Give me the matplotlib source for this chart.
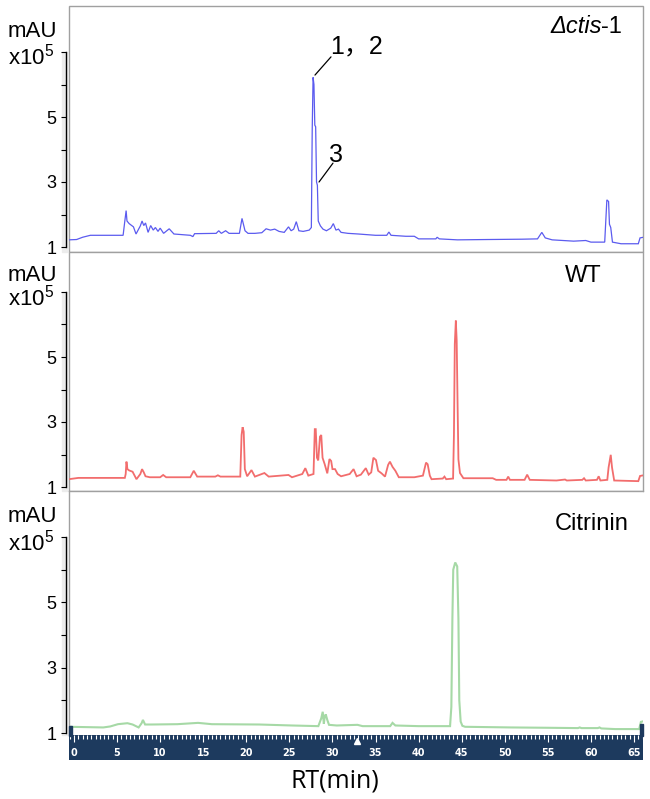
import matplotlib
matplotlib.use('Agg')
import matplotlib.pyplot as plt
from matplotlib.patches import Rectangle
from matplotlib.ticker import FixedLocator, MultipleLocator

plt.rcParams['font.family'] = ['Liberation Sans', 'Noto Sans CJK SC', 'DejaVu Sans']
plt.rcParams['mathtext.fontset'] = 'custom'
plt.rcParams['mathtext.rm'] = 'Liberation Sans'
plt.rcParams['mathtext.it'] = 'Liberation Sans:italic'
plt.rcParams['mathtext.default'] = 'regular'

# chromatogram traces: retention time (min) and signal (x10^5 mAU)
ctis_rt = [-0.6, 0.3, 1.0, 1.9, 5.7, 5.9, 6.05, 6.15, 6.4, 6.9, 7.2, 7.7, 7.9, 8.1, 8.3, 8.6,
           8.9, 9.2, 9.45, 9.75, 10.0, 10.4, 11.05, 11.6, 13.5, 13.8, 14.0, 16.5, 16.8, 17.1,
           17.6, 18.0, 19.2, 19.5, 19.85, 20.2, 21.0, 21.8, 22.3, 22.8, 23.3, 23.8, 24.4, 24.9,
           25.2, 25.5, 25.8, 26.1, 26.6, 27.3, 27.55, 27.65, 27.75, 27.85, 27.95, 28.05, 28.15,
           28.25, 28.35, 28.6, 28.9, 29.3, 29.8, 30.1, 30.4, 30.7, 31.0, 31.8, 33.0, 35.0, 36.3,
           36.55, 36.8, 38.5, 39.5, 40.0, 42.0, 42.15, 42.4, 44.5, 48.0, 52.0, 53.8, 54.3, 54.7,
           55.5, 58.0, 59.4, 60.0, 61.6, 61.85, 62.05, 62.15, 62.3, 62.5, 63.5, 65.5, 65.7, 66.1]
ctis_au = [1.22, 1.23, 1.30, 1.36, 1.36, 1.80, 2.12, 1.80, 1.72, 1.62, 1.40, 1.65, 1.80, 1.66,
           1.74, 1.45, 1.66, 1.52, 1.60, 1.48, 1.58, 1.42, 1.56, 1.40, 1.36, 1.32, 1.41, 1.42,
           1.50, 1.42, 1.50, 1.42, 1.42, 1.88, 1.50, 1.42, 1.42, 1.44, 1.56, 1.52, 1.55, 1.48,
           1.45, 1.62, 1.50, 1.55, 1.78, 1.50, 1.48, 1.52, 1.60, 4.60, 6.22, 6.00, 4.75, 4.70,
           3.00, 2.90, 1.80, 1.65, 1.55, 1.50, 1.58, 1.72, 1.52, 1.55, 1.45, 1.42, 1.40, 1.36,
           1.36, 1.46, 1.36, 1.33, 1.33, 1.25, 1.25, 1.30, 1.25, 1.22, 1.23, 1.24, 1.25, 1.45,
           1.28, 1.22, 1.18, 1.20, 1.15, 1.15, 2.45, 2.40, 1.70, 1.60, 1.15, 1.10, 1.10, 1.28, 1.30]

wt_rt = [-0.6, 0.5, 5.9, 6.0, 6.09, 6.2, 6.4, 6.8, 7.25, 7.7, 7.9, 8.1, 8.3, 8.8, 10.0, 10.35,
         10.7, 13.5, 13.9, 14.3, 16.4, 16.7, 17.0, 19.3, 19.45, 19.57, 19.7, 19.83, 20.1, 20.6,
         21.0, 22.1, 22.6, 24.9, 25.3, 26.5, 26.85, 27.2, 27.8, 27.95, 28.06, 28.2, 28.35, 28.55,
         28.7, 28.85, 29.1, 29.4, 29.65, 29.85, 30.0, 30.3, 30.6, 31.0, 32.0, 32.45, 32.8, 33.3,
         33.87, 34.2, 34.5, 34.75, 35.05, 35.3, 35.7, 36.1, 36.46, 36.67, 36.97, 37.3, 37.7,
         39.5, 40.5, 40.86, 41.05, 41.3, 41.5, 42.8, 43.0, 43.2, 44.0, 44.1, 44.2, 44.32, 44.42,
         44.52, 44.62, 44.8, 45.2, 48.6, 49.0, 50.2, 50.4, 50.6, 52.3, 52.6, 52.9, 56.0, 57.0,
         57.2, 59.0, 59.2, 59.4, 60.7, 60.9, 61.1, 61.9, 62.05, 62.3, 62.45, 62.7, 65.5, 65.7, 66.1]
wt_au = [1.24, 1.28, 1.28, 1.40, 1.78, 1.55, 1.51, 1.47, 1.24, 1.40, 1.55, 1.45, 1.33, 1.30,
         1.30, 1.37, 1.30, 1.30, 1.50, 1.32, 1.32, 1.36, 1.32, 1.32, 2.60, 2.84, 2.70, 1.55,
         1.33, 1.52, 1.32, 1.43, 1.32, 1.37, 1.30, 1.40, 1.58, 1.35, 1.40, 2.78, 2.78, 1.90,
         1.82, 2.55, 2.60, 1.90, 1.70, 1.42, 1.86, 1.80, 1.55, 1.55, 1.40, 1.33, 1.40, 1.55,
         1.33, 1.38, 1.58, 1.38, 1.45, 1.90, 1.83, 1.50, 1.42, 1.32, 1.68, 1.78, 1.62, 1.50,
         1.30, 1.30, 1.35, 1.75, 1.70, 1.35, 1.24, 1.26, 1.32, 1.24, 1.26, 2.60, 5.40, 6.12,
         5.50, 3.60, 1.85, 1.43, 1.27, 1.27, 1.22, 1.22, 1.32, 1.22, 1.22, 1.38, 1.22, 1.20,
         1.23, 1.20, 1.22, 1.27, 1.20, 1.22, 1.33, 1.20, 1.22, 1.60, 1.99, 1.60, 1.20, 1.18,
         1.34, 1.36]

cit_rt = [-0.6, 3.4, 4.2, 5.1, 6.2, 6.8, 7.5, 7.85, 8.0, 8.25, 9.0, 12.0, 14.4, 16.0, 21.5,
          25.3, 28.36, 28.7, 28.87, 29.0, 29.1, 29.22, 29.4, 29.6, 30.5, 32.9, 33.5, 36.7,
          36.97, 37.3, 40.0, 43.65, 43.8, 43.92, 44.02, 44.25, 44.48, 44.62, 44.72, 44.88, 45.08,
          45.4, 50.75, 55.0, 58.5, 58.7, 58.9, 60.8, 61.0, 61.2, 62.8, 65.6, 65.8, 66.1]
cit_au = [1.19, 1.17, 1.20, 1.27, 1.30, 1.26, 1.17, 1.30, 1.40, 1.26, 1.26, 1.27, 1.31, 1.27,
          1.26, 1.23, 1.21, 1.45, 1.65, 1.28, 1.50, 1.57, 1.40, 1.25, 1.23, 1.25, 1.21, 1.21,
          1.31, 1.23, 1.21, 1.21, 1.80, 4.50, 6.00, 6.22, 6.10, 4.50, 2.00, 1.35, 1.22, 1.19,
          1.17, 1.16, 1.15, 1.17, 1.15, 1.15, 1.17, 1.14, 1.12, 1.12, 1.34, 1.36]

sample_names = [('Δctis', '-1'), ('WT', ''), ('Citrinin', '')]
y_ticks = [1, 2, 3, 4, 5, 6, 7]
y_tick_labels = ['1', '', '3', '', '5', '', '']
rt_ticks = list(range(0, 66, 5))
marker_rt = 32.8

W, H = 650, 799
fig = plt.figure(figsize=(W / 100, H / 100), dpi=100)


def box(x0, y0, x1, y1):
    # pixel box (top-left origin) -> figure fraction rect
    return [x0 / W, 1 - y1 / H, (x1 - x0) / W, (y1 - y0) / H]


# x calibration: 0 min at px 74, 65 min at px 634
ppm = (634 - 74) / 65
xlim = ((69 - 74) / ppm, 65 + (643 - 634) / ppm)

# panel geometry in pixels: top, bottom, y-pixel of tick 1, y-pixel of tick 7
panels = [(6, 252, 247, 52), (252, 491, 487, 292), (491, 735, 733, 537)]
traces = [(ctis_rt, ctis_au, '#5b5bef', 0.9),
          (wt_rt, wt_au, '#f26d6d', 1.3),
          (cit_rt, cit_au, '#a6d9a6', 1.5)]
label_pos = [(550, 33), (565, 282), (555, 530)]
mau_base = [37, 281, 522]

axes = []
for i, (top, bot, p1, p7) in enumerate(panels):
    ax = fig.add_axes(box(69, top, 643, bot))
    ppu = (p1 - p7) / 6
    ax.set_ylim(1 - (bot - p1) / ppu, 7 + (p7 - top) / ppu)
    ax.set_xlim(*xlim)
    rt, au, col, lw = traces[i]
    ax.plot(rt, au, color=col, lw=lw, solid_joinstyle='miter')

    for s in ['top', 'right', 'bottom']:
        ax.spines[s].set_visible(False)
    ax.spines['left'].set_position(('outward', 2))
    ax.spines['left'].set_bounds(1, 7)
    ax.spines['left'].set_linewidth(1.0)
    if i < 2:
        ax.add_patch(Rectangle((0, 0), 1, 1, transform=ax.transAxes, fill=False,
                               edgecolor='#a0a0a0', lw=1.0, clip_on=False, zorder=0))
    else:
        ax.plot([0, 1], [1, 1], transform=ax.transAxes, color='#a0a0a0', lw=1.0, clip_on=False)
        ax.plot([0, 0], [0, 1], transform=ax.transAxes, color='#a0a0a0', lw=1.0, clip_on=False)
    ax.yaxis.set_major_locator(FixedLocator(y_ticks))
    ax.set_yticklabels(y_tick_labels)
    ax.tick_params(axis='y', direction='out', length=3.6, width=0.8, pad=3.5, labelsize=13)
    ax.set_xticks([])

    # light grey band left of the axis line
    fig.patches.append(Rectangle((62 / W, 1 - bot / H), 5 / W, (bot - p7) / H,
                                 transform=fig.transFigure, color='#ececec', zorder=-1))

    fig.text(8 / W, 1 - mau_base[i] / H, 'mAU', fontsize=16, va='baseline')
    fig.text(8 / W, 1 - (p7 + 13) / H, 'x10$^5$', fontsize=16, va='baseline')
    lx, ly = label_pos[i]
    name, suffix = sample_names[i]
    t1 = fig.text(lx / W, 1 - ly / H, name, fontsize=17, va='baseline',
                  style='italic' if suffix else 'normal')
    if suffix:
        ax.annotate(suffix, xy=(1, 0), xycoords=t1, fontsize=17, va='bottom', ha='left')
    axes.append(ax)

# peak labels in the top panel
ax = axes[0]
ax.annotate('', xy=(27.97, 6.29), xytext=(29.83, 6.85),
            arrowprops=dict(arrowstyle='-', lw=0.9, color='k', shrinkA=0, shrinkB=0))
ax.text(29.72, 6.97, '1，2', fontsize=18, va='baseline')
ax.annotate('', xy=(28.44, 3.0), xytext=(30.06, 3.58),
            arrowprops=dict(arrowstyle='-', lw=0.9, color='k', shrinkA=0, shrinkB=0))
ax.text(29.6, 3.62, '3', fontsize=18, va='baseline')

# retention time ruler
navy = '#1d3a5e'
bar = fig.add_axes(box(69, 735, 643, 760))
bar.set_facecolor(navy)
bar.set_xlim(*xlim)
bar.set_ylim(0, 1)
for s in bar.spines.values():
    s.set_visible(False)
bar.set_yticks([])
bar.xaxis.set_major_locator(FixedLocator(rt_ticks))
bar.xaxis.set_minor_locator(MultipleLocator(0.5))
bar.tick_params(axis='x', which='both', top=True, bottom=False, direction='in',
                labeltop=False, labelbottom=False, color='white', width=0.8)
bar.tick_params(axis='x', which='major', length=5)
bar.tick_params(axis='x', which='minor', length=2.8)
for t in rt_ticks:
    bar.text(t, 0.3, str(t), color='white', fontsize=7, fontweight='bold',
             family='DejaVu Sans', ha='center', va='center')
bar.plot([marker_rt], [0.78], marker='^', color='white', ms=5, mec='white')

# little end caps of the ruler
fig.patches.append(Rectangle((69 / W, 1 - 736 / H), 3 / W, 10 / H,
                             transform=fig.transFigure, color=navy))
fig.patches.append(Rectangle((640 / W, 1 - 736 / H), 3 / W, 12 / H,
                             transform=fig.transFigure, color=navy))

fig.text(335 / W, 1 - 788 / H, 'RT(min)', fontsize=18, family='Open Sans',
         ha='center', va='baseline')

fig.savefig('out.png', dpi=100)
